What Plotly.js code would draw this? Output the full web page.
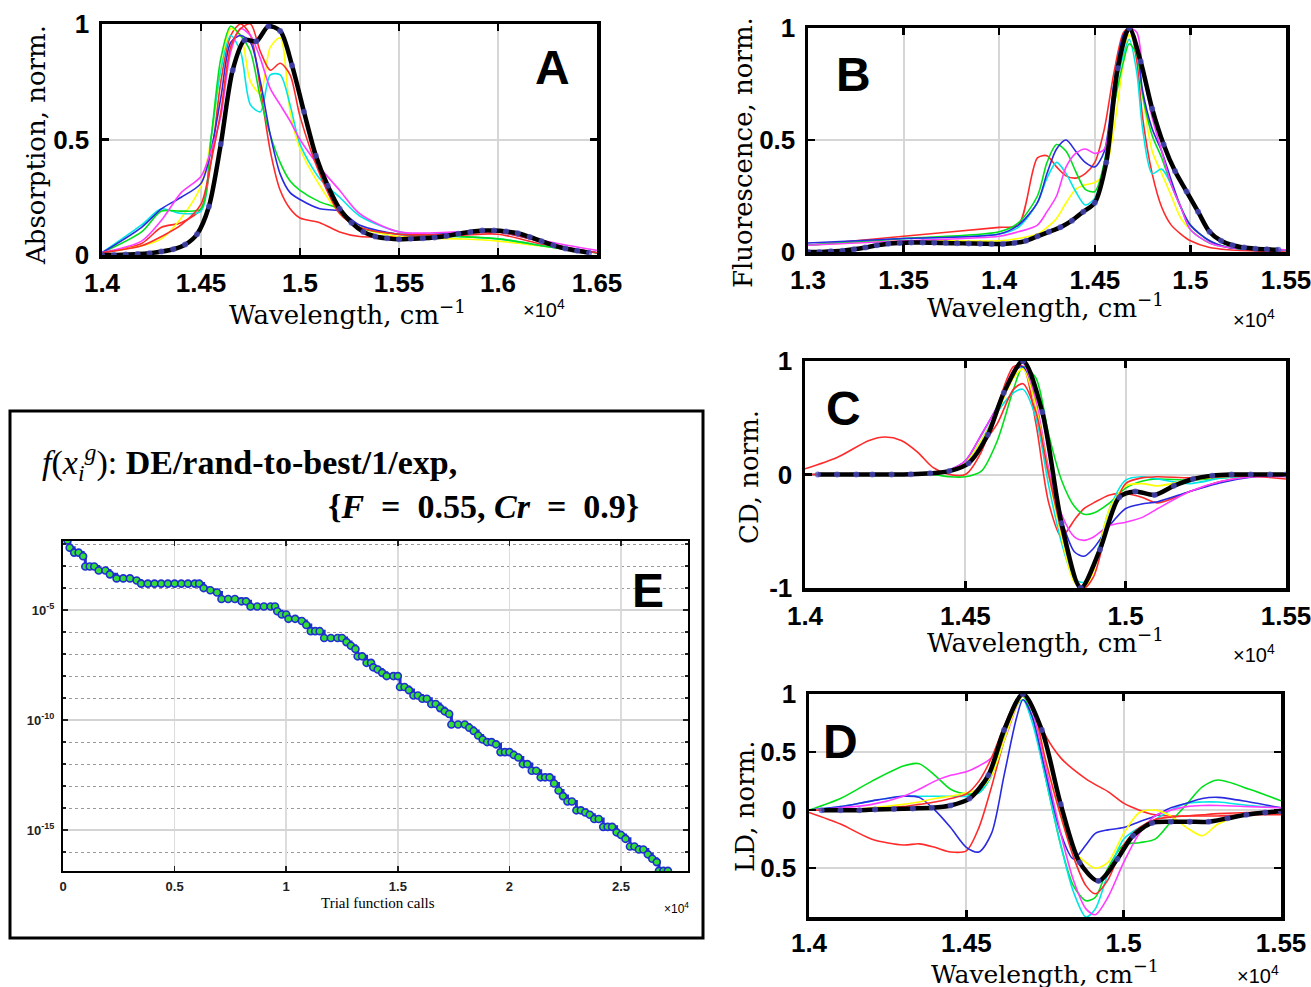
<!DOCTYPE html>
<html><head><meta charset="utf-8">
<script src="https://cdn.plot.ly/plotly-3.0.1.min.js"></script>
<style>html,body{margin:0;padding:0;background:#fff;}#chart{width:1311px;height:987px;}</style>
</head><body><div id="chart"></div>
<script>
// ---------- Panel A: Absorption ----------
const aX = [1.40,1.42,1.43,1.44,1.45,1.455,1.46,1.465,1.47,1.475,1.48,1.485,1.49,1.495,1.50,1.51,1.52,1.53,1.55,1.58,1.60,1.63,1.65];
const aRed1 = [0.01,0.05,0.12,0.14,0.2,0.4,0.75,0.95,1.0,0.95,0.72,0.45,0.28,0.2,0.16,0.14,0.1,0.08,0.08,0.085,0.09,0.03,0.01];
const aRed2 = [0.01,0.04,0.08,0.13,0.22,0.4,0.62,0.9,0.98,1.0,0.88,0.8,0.83,0.78,0.6,0.35,0.18,0.12,0.09,0.09,0.1,0.04,0.01];
const aYellow = [0.01,0.04,0.07,0.16,0.3,0.5,0.8,0.98,0.95,0.75,0.7,0.9,0.94,0.62,0.46,0.3,0.18,0.12,0.08,0.07,0.06,0.03,0.01];
const aGreen = [0.01,0.1,0.19,0.19,0.2,0.5,0.85,0.99,0.95,0.88,0.68,0.52,0.4,0.32,0.28,0.23,0.2,0.12,0.09,0.08,0.07,0.03,0.01];
const aCyan = [0.01,0.13,0.2,0.18,0.19,0.5,0.8,0.95,0.88,0.65,0.62,0.78,0.78,0.65,0.48,0.33,0.25,0.17,0.1,0.08,0.07,0.03,0.01];
const aBlue = [0.01,0.12,0.2,0.25,0.31,0.45,0.68,0.92,0.95,0.92,0.75,0.52,0.35,0.27,0.24,0.2,0.19,0.13,0.09,0.095,0.1,0.04,0.01];
const aMagenta = [0.01,0.06,0.15,0.27,0.34,0.45,0.6,0.88,0.98,0.95,0.85,0.72,0.65,0.58,0.5,0.38,0.28,0.18,0.1,0.1,0.1,0.05,0.02];
const aFitX = [1.400,1.406,1.412,1.418,1.424,1.430,1.436,1.442,1.448,1.454,1.460,1.466,1.472,1.478,1.484,1.490,1.496,1.502,1.508,1.514,1.520,1.526,1.532,1.538,1.544,1.550,1.556,1.562,1.568,1.574,1.580,1.586,1.592,1.598,1.604,1.610,1.616,1.622,1.628,1.634,1.640,1.646];
const aFitY = [0.0,0.0,0.002,0.004,0.008,0.015,0.025,0.045,0.09,0.21,0.48,0.80,0.93,0.925,0.99,0.97,0.82,0.62,0.43,0.30,0.20,0.14,0.10,0.08,0.072,0.068,0.07,0.072,0.076,0.082,0.092,0.10,0.106,0.106,0.102,0.094,0.078,0.06,0.042,0.028,0.018,0.01];

// ---------- Panel B: Fluorescence ----------
const bX = [1.30,1.35,1.40,1.41,1.42,1.425,1.43,1.435,1.44,1.445,1.45,1.455,1.46,1.465,1.468,1.472,1.475,1.48,1.485,1.49,1.495,1.50,1.51,1.52,1.55];
const bRed = [0.03,0.07,0.11,0.12,0.42,0.43,0.38,0.34,0.33,0.35,0.4,0.55,0.8,0.98,1.0,0.85,0.6,0.35,0.2,0.12,0.08,0.05,0.02,0.01,0.0];
const bGreen = [0.03,0.06,0.09,0.13,0.25,0.4,0.48,0.45,0.36,0.28,0.27,0.4,0.65,0.85,0.93,0.88,0.7,0.52,0.42,0.3,0.2,0.12,0.05,0.02,0.01];
const bCyan = [0.03,0.06,0.08,0.11,0.22,0.33,0.4,0.35,0.27,0.21,0.24,0.4,0.7,0.88,0.95,0.8,0.55,0.35,0.37,0.3,0.2,0.1,0.04,0.02,0.01];
const bBlue = [0.04,0.06,0.08,0.12,0.22,0.35,0.46,0.5,0.45,0.4,0.38,0.45,0.75,0.97,1.0,0.92,0.72,0.55,0.45,0.32,0.2,0.12,0.05,0.02,0.01];
const bMagenta = [0.03,0.05,0.07,0.09,0.12,0.18,0.25,0.38,0.44,0.46,0.44,0.46,0.7,0.95,1.0,0.98,0.82,0.6,0.45,0.3,0.2,0.1,0.04,0.02,0.01];
const bYellow = [0.03,0.05,0.05,0.06,0.08,0.11,0.15,0.22,0.28,0.3,0.31,0.35,0.55,0.85,0.97,0.9,0.7,0.45,0.35,0.25,0.15,0.1,0.04,0.02,0.01];
const bFitX = [1.300,1.306,1.312,1.318,1.324,1.330,1.336,1.342,1.348,1.354,1.360,1.366,1.372,1.378,1.384,1.390,1.396,1.402,1.408,1.414,1.420,1.426,1.432,1.438,1.444,1.450,1.456,1.462,1.468,1.474,1.480,1.486,1.492,1.498,1.504,1.510,1.516,1.522,1.528,1.534,1.540,1.546];
const bFitY = [0.0,0.0,0.003,0.006,0.012,0.02,0.03,0.037,0.04,0.042,0.042,0.041,0.04,0.039,0.038,0.037,0.036,0.036,0.04,0.05,0.07,0.09,0.11,0.14,0.18,0.22,0.40,0.82,1.0,0.85,0.64,0.48,0.36,0.27,0.18,0.09,0.05,0.03,0.02,0.015,0.012,0.01];

// ---------- Panel C: CD ----------
const cX = [1.40,1.41,1.42,1.425,1.43,1.435,1.44,1.445,1.45,1.455,1.46,1.465,1.468,1.472,1.476,1.48,1.484,1.487,1.49,1.495,1.50,1.505,1.51,1.52,1.53,1.54,1.55];
const cRed1 = [0.05,0.15,0.3,0.33,0.3,0.2,0.06,0.0,0.0,0.2,0.6,0.95,0.95,0.45,-0.25,-0.55,-0.4,-0.3,-0.25,-0.18,-0.17,-0.2,-0.25,-0.15,-0.06,-0.02,-0.04];
const cRed2 = [0,0,0,0,0,0,0.01,0.03,0.08,0.25,0.45,0.75,0.8,0.55,0.0,-0.5,-0.9,-1.0,-0.9,-0.4,-0.08,-0.03,-0.02,-0.03,-0.02,-0.01,0];
const cGreen = [0,0,0,0,0,0,0,-0.02,-0.02,0.03,0.3,0.75,0.95,0.85,0.35,-0.05,-0.28,-0.35,-0.34,-0.25,-0.12,-0.06,-0.04,-0.05,-0.03,-0.01,0];
const cCyan = [0,0,0,0,0,0,0.01,0.03,0.1,0.3,0.55,0.72,0.75,0.5,-0.1,-0.6,-0.92,-0.95,-0.8,-0.3,-0.05,-0.02,-0.04,-0.08,-0.03,-0.01,0];
const cBlue = [0,0,0,0,0,0,0.01,0.04,0.12,0.35,0.6,0.9,0.95,0.6,0.0,-0.4,-0.68,-0.72,-0.65,-0.45,-0.3,-0.26,-0.24,-0.15,-0.07,-0.02,0];
const cMagenta = [0,0,0,0,0,0,0.01,0.04,0.12,0.35,0.6,0.92,0.98,0.65,0.05,-0.35,-0.55,-0.58,-0.55,-0.45,-0.42,-0.38,-0.3,-0.15,-0.06,-0.02,-0.02];
const cYellow = [0,0,0,0,0,0,0.01,0.03,0.1,0.3,0.55,0.85,0.93,0.6,0.0,-0.55,-0.95,-1.0,-0.85,-0.3,-0.1,-0.08,-0.1,-0.05,-0.02,0,0];
const cFitX = [1.404,1.410,1.416,1.421,1.427,1.433,1.439,1.445,1.451,1.457,1.462,1.468,1.474,1.480,1.486,1.492,1.498,1.503,1.509,1.515,1.521,1.527,1.533,1.539,1.545,1.550];
const cFitY = [0,0,0,0,0,0.002,0.01,0.03,0.1,0.35,0.72,1.0,0.55,-0.43,-1.0,-0.66,-0.2,-0.15,-0.18,-0.1,-0.04,-0.01,0,0,0,0];
const cTickText = ['-1','0','1'];

// ---------- Panel D: LD ----------
const dX = [1.40,1.41,1.42,1.43,1.435,1.44,1.445,1.45,1.454,1.458,1.462,1.466,1.468,1.471,1.475,1.48,1.484,1.488,1.491,1.495,1.50,1.505,1.51,1.515,1.52,1.525,1.53,1.54,1.55];
const dRed1 = [-0.02,-0.12,-0.25,-0.3,-0.29,-0.32,-0.36,-0.35,-0.15,0.2,0.6,0.93,1.0,0.9,0.65,0.45,0.35,0.27,0.22,0.16,0.06,0.0,-0.04,-0.05,-0.05,-0.05,-0.05,-0.04,-0.04];
const dRed2 = [0,0,0.01,0.03,0.05,0.07,0.1,0.14,0.25,0.45,0.72,0.95,1.0,0.9,0.45,-0.05,-0.4,-0.65,-0.72,-0.6,-0.3,-0.15,-0.08,-0.06,-0.05,-0.04,-0.03,-0.02,-0.02];
const dGreen = [0,0.1,0.25,0.38,0.4,0.3,0.18,0.14,0.15,0.3,0.65,0.95,0.98,0.8,0.3,-0.3,-0.65,-0.78,-0.75,-0.5,-0.3,-0.28,-0.25,-0.1,0.05,0.2,0.26,0.18,0.08];
const dCyan = [0,0.03,0.08,0.12,0.12,0.12,0.12,0.12,0.15,0.3,0.6,0.9,0.95,0.75,0.3,-0.3,-0.7,-0.92,-0.85,-0.55,-0.25,-0.15,-0.08,0.0,0.06,0.07,0.07,0.04,0.02];
const dBlue = [0,0.03,0.08,0.12,0.11,0.0,-0.15,-0.32,-0.36,-0.2,0.3,0.8,0.95,0.8,0.35,-0.2,-0.42,-0.3,-0.2,-0.17,-0.15,-0.1,-0.05,0.02,0.06,0.1,0.11,0.07,0.02];
const dMagenta = [0,0.02,0.05,0.12,0.18,0.25,0.3,0.33,0.38,0.45,0.6,0.9,1.0,0.85,0.4,-0.2,-0.6,-0.85,-0.9,-0.75,-0.45,-0.2,-0.05,0.0,0.03,0.04,0.04,0.03,0.02];
const dYellow = [0,0,0.02,0.05,0.07,0.1,0.12,0.15,0.18,0.3,0.6,0.9,0.98,0.9,0.45,-0.05,-0.35,-0.45,-0.5,-0.45,-0.2,-0.02,0.0,-0.05,-0.15,-0.22,-0.12,-0.03,0];
const dFitX = [1.404,1.410,1.416,1.421,1.427,1.433,1.439,1.445,1.451,1.457,1.462,1.468,1.474,1.480,1.486,1.492,1.498,1.503,1.509,1.515,1.521,1.527,1.533,1.539,1.545,1.550];
const dFitY = [0,0,0,0.005,0.01,0.015,0.02,0.04,0.1,0.3,0.69,1.0,0.69,0.05,-0.45,-0.61,-0.42,-0.22,-0.11,-0.1,-0.1,-0.1,-0.07,-0.04,-0.02,-0.01];
const dTickVals = [-0.5,0,0.5,1];
const dTickText = ['0.5','0','0.5','1'];

// ---------- Panel E: convergence ----------
const eCalls = [0.02,0.03,0.05,0.07,0.09,0.10,0.12,0.14,0.16,0.19,0.21,0.24,0.27,0.30,0.33,0.35,0.38,0.41,0.44,0.47,0.50,0.53,0.56,0.59,0.61,0.63,0.66,0.69,0.71,0.74,0.77,0.80,0.82,0.84,0.87,0.90,0.93,0.95,0.96,0.98,1.00,1.01,1.04,1.07,1.09,1.11,1.13,1.15,1.17,1.20,1.23,1.25,1.27,1.29,1.31,1.32,1.34,1.36,1.38,1.39,1.41,1.43,1.45,1.48,1.50,1.51,1.53,1.55,1.57,1.59,1.61,1.63,1.65,1.67,1.69,1.71,1.73,1.74,1.77,1.80,1.82,1.84,1.86,1.88,1.90,1.92,1.94,1.96,1.98,2.00,2.02,2.04,2.06,2.08,2.10,2.12,2.14,2.16,2.18,2.20,2.22,2.24,2.26,2.28,2.30,2.32,2.34,2.36,2.38,2.40,2.42,2.44,2.46,2.48,2.50,2.52,2.54,2.56,2.58,2.60,2.62,2.64,2.66,2.67,2.69,2.71];
const eBest = [1.45e-2,6.9e-3,4.1e-3,4.1e-3,2.8e-3,9.5e-4,9.5e-4,9.5e-4,6.3e-4,6.3e-4,4.2e-4,2.75e-4,2.75e-4,2.75e-4,2.2e-4,1.6e-4,1.6e-4,1.6e-4,1.6e-4,1.6e-4,1.6e-4,1.6e-4,1.6e-4,1.6e-4,1.6e-4,1.0e-4,8e-5,6.3e-5,3.2e-5,3.2e-5,3.2e-5,2.5e-5,2.5e-5,1.45e-5,1.45e-5,1.45e-5,1.45e-5,1.45e-5,8.9e-6,6.3e-6,6.3e-6,4.0e-6,4.0e-6,3.2e-6,2.1e-6,1.1e-6,1.1e-6,1.1e-6,5.4e-7,5.4e-7,5.4e-7,5.4e-7,3.5e-7,2.4e-7,1.7e-7,7.9e-8,7.9e-8,4.0e-8,4.0e-8,2.5e-8,2.0e-8,1.4e-8,1.0e-8,1.0e-8,1.0e-8,3.2e-9,3.2e-9,2.3e-9,1.3e-9,1.3e-9,9.3e-10,9.3e-10,5.4e-10,5.4e-10,3.5e-10,2.5e-10,1.9e-10,6.3e-11,6.3e-11,6.3e-11,4.5e-11,3.2e-11,2.0e-11,1.3e-11,1.0e-11,1.0e-11,7.9e-12,3.5e-12,3.5e-12,3.5e-12,2.6e-12,2.0e-12,1.0e-12,1.0e-12,5.0e-13,5.0e-13,2.5e-13,2.5e-13,2.5e-13,1.3e-13,6.3e-14,3.5e-14,2.0e-14,2.0e-14,7.9e-15,7.9e-15,6.3e-15,5.0e-15,3.2e-15,3.2e-15,1.4e-15,1.4e-15,1.4e-15,7.9e-16,6.0e-16,4.0e-16,1.8e-16,1.8e-16,1.3e-16,1.3e-16,7.9e-17,5.0e-17,3.5e-17,1.4e-17,1.4e-17,1.4e-17];
const eTickVals = [1e-15,1e-10,1e-5];
const eTickText = ['10<sup>-15</sup>','10<sup>-10</sup>','10<sup>-5</sup>'];

// ---------- build ----------
const W = 1311, H = 987;
const colors = {red:'#ff2a2a', yellow:'#ffff00', green:'#00e01a', cyan:'#00e6e6', blue:'#2a2ae0', magenta:'#ff3cff'};
const traces = [];
function addSet(xa, ya, x, sets, fitX, fitY) {
  sets.forEach(s => traces.push({x: x, y: s[1], xaxis: xa, yaxis: ya, type: 'scatter', mode: 'lines',
    line: {color: colors[s[0]], width: 1.6, shape: 'spline', smoothing: 0.8}, hoverinfo: 'skip'}));
  traces.push({x: fitX, y: fitY, xaxis: xa, yaxis: ya, type: 'scatter', mode: 'lines+markers',
    line: {color: '#000', width: 4.5, shape: 'spline', smoothing: 0.8},
    marker: {symbol: 'circle', size: 6, color: 'rgba(80,80,210,0.75)', line: {width: 0}}});
}
addSet('x','y', aX, [['red',aRed1],['yellow',aYellow],['cyan',aCyan],['green',aGreen],['blue',aBlue],['magenta',aMagenta],['red',aRed2]], aFitX, aFitY);
addSet('x2','y2', bX, [['red',bRed],['yellow',bYellow],['cyan',bCyan],['green',bGreen],['blue',bBlue],['magenta',bMagenta]], bFitX, bFitY);
addSet('x3','y3', cX, [['red',cRed1],['green',cGreen],['cyan',cCyan],['blue',cBlue],['magenta',cMagenta],['yellow',cYellow],['red',cRed2]], cFitX, cFitY);
addSet('x4','y4', dX, [['red',dRed1],['green',dGreen],['cyan',dCyan],['blue',dBlue],['magenta',dMagenta],['yellow',dYellow],['red',dRed2]], dFitX, dFitY);
traces.push({x: eCalls, y: eBest, xaxis: 'x5', yaxis: 'y5', type: 'scatter', mode: 'lines+markers',
  line: {color: '#1f2fd0', width: 3, shape: 'hv'},
  marker: {symbol: 'circle', size: 7, color: '#33dd33', line: {color: '#1f2fd0', width: 1.6}}});

const dxp = (a, b) => [a / W, b / W];
const dyp = (top, bot) => [1 - bot / H, 1 - top / H];
const tickFont = {family: 'Liberation Sans, Arial, sans-serif', size: 26, color: '#000', weight: 'bold'};
function specAxis(domain, range, tickvals, ticktext, isX) {
  const o = {domain: domain, range: range, tickvals: tickvals, showgrid: true, gridcolor: '#d6d6d6', gridwidth: 2,
    zeroline: false, showline: true, linecolor: '#000', linewidth: 3.5, mirror: 'ticks',
    ticks: 'inside', ticklen: 7, tickwidth: 2.5, tickcolor: '#000', tickfont: tickFont,
    ticklabeloverflow: 'allow', ticklabelstandoff: isX ? 2 : 4, fixedrange: true};
  if (ticktext) o.ticktext = ticktext;
  return o;
}
const layout = {
  width: W, height: H, margin: {l: 0, r: 0, t: 0, b: 0}, showlegend: false,
  paper_bgcolor: '#fff', plot_bgcolor: '#fff',
  xaxis: Object.assign(specAxis(dxp(102, 597), [1.4, 1.65], [1.4,1.45,1.5,1.55,1.6,1.65], null, true), {anchor: 'y'}),
  yaxis: Object.assign(specAxis(dyp(24, 255), [0, 1], [0,0.5,1], null, false), {anchor: 'x'}),
  xaxis2: Object.assign(specAxis(dxp(808, 1286), [1.3, 1.55], [1.3,1.35,1.4,1.45,1.5,1.55], null, true), {anchor: 'y2'}),
  yaxis2: Object.assign(specAxis(dyp(28, 252), [0, 1], [0,0.5,1], null, false), {anchor: 'x2'}),
  xaxis3: Object.assign(specAxis(dxp(805, 1286), [1.4, 1.55], [1.4,1.45,1.5,1.55], null, true), {anchor: 'y3'}),
  yaxis3: Object.assign(specAxis(dyp(361, 588), [-1, 1], [-1,0,1], cTickText, false), {anchor: 'x3'}),
  xaxis4: Object.assign(specAxis(dxp(809, 1281), [1.4, 1.55], [1.4,1.45,1.5,1.55], null, true), {anchor: 'y4', ticklabelstandoff: 0}),
  yaxis4: Object.assign(specAxis(dyp(694, 917), [-0.92, 1], dTickVals, dTickText, false), {anchor: 'x4'}),
  xaxis5: {domain: dxp(63, 688), range: [0, 2.8], anchor: 'y5', tickvals: [0,0.5,1,1.5,2,2.5],
    showgrid: true, gridcolor: '#dcdcdc', gridwidth: 1.5, zeroline: false, showline: true, linecolor: '#000', linewidth: 2,
    mirror: 'ticks', ticks: 'inside', ticklen: 5, tickwidth: 1.5, tickcolor: '#222',
    tickfont: {family: 'Liberation Sans, Arial, sans-serif', size: 13, color: '#222', weight: 'bold'}, ticklabelstandoff: 2, fixedrange: true},
  yaxis5: {domain: dyp(541, 871), type: 'log', range: [-16.86, -1.86], anchor: 'x5', tickvals: eTickVals, ticktext: eTickText,
    showgrid: true, gridcolor: '#d4d4d4', gridwidth: 1.5, zeroline: false, showline: true, linecolor: '#000', linewidth: 2,
    mirror: 'ticks', ticks: 'inside', ticklen: 5, tickwidth: 1.5, tickcolor: '#222',
    minor: {dtick: 1, showgrid: true, griddash: 'dot', gridcolor: '#9a9a9a', gridwidth: 1, ticks: 'inside', ticklen: 3, tickcolor: '#222'},
    tickfont: {family: 'Liberation Sans, Arial, sans-serif', size: 13, color: '#222', weight: 'bold'}, ticklabelstandoff: 4, fixedrange: true},
  shapes: [
    {type: 'rect', xref: 'paper', yref: 'paper', x0: 10 / W, x1: 703 / W, y0: 1 - 938 / H, y1: 1 - 411 / H,
     line: {color: '#000', width: 3}, fillcolor: 'rgba(0,0,0,0)', layer: 'below'}
  ],
  annotations: []
};
const serif = 'DejaVu Serif, Liberation Serif, serif';
const tserif = 'Liberation Serif, DejaVu Serif, serif';
const sans = 'Liberation Sans, Arial, sans-serif';
function ann(text, x, y, size, family, opts) {
  layout.annotations.push(Object.assign({text: text, x: x / W, y: 1 - y / H, xref: 'paper', yref: 'paper',
    showarrow: false, xanchor: 'center', yanchor: 'middle', font: {family: family, size: size, color: '#000'}}, opts || {}));
}
const wl = 'Wavelength, cm<sup>−1</sup>';
ann(wl, 348, 313, 26, serif);
ann(wl, 1045, 306, 26, serif);
ann(wl, 1045, 641, 26, serif);
ann(wl, 1045, 972, 25, serif);
ann('Absorption, norm.', 36, 145, 26, serif, {textangle: -90});
ann('Fluorescence, norm.', 743, 152, 26, serif, {textangle: -90});
ann('CD, norm.', 749, 477, 26, serif, {textangle: -90});
ann('LD, norm.', 745, 806, 26, serif, {textangle: -90});
ann('×10<sup>4</sup>', 544, 308, 20, sans);
ann('×10<sup>4</sup>', 1254, 318, 20, sans);
ann('×10<sup>4</sup>', 1254, 653, 20, sans);
ann('×10<sup>4</sup>', 1258, 974, 20, sans);
const big = {family: sans, size: 48, color: '#000', weight: 'bold'};
ann('A', 552, 68, 48, sans, {font: big});
ann('B', 853, 75, 48, sans, {font: big});
ann('C', 843, 408, 48, sans, {font: big});
ann('D', 840, 741, 48, sans, {font: big});
ann('E', 648, 590, 48, sans, {font: big});
ann('Trial function calls', 378, 903, 15, tserif);
ann('×10<sup>4</sup>', 676, 908, 12, sans);
ann('<i>f</i>(<i>x</i><sub><i>i</i></sub><sup><i>g</i></sup>): <b>DE/rand-to-best/1/exp,</b>', 40, 462, 34, tserif, {xanchor: 'left'});
ann('<b>{<i>F</i>&nbsp;&nbsp;=&nbsp;&nbsp;0.55,&nbsp;<i>Cr</i>&nbsp;&nbsp;=&nbsp;&nbsp;0.9}</b>', 641, 506, 34, tserif, {xanchor: 'right'});

Plotly.newPlot('chart', traces, layout, {displayModeBar: false, staticPlot: true});
</script>
</body></html>
